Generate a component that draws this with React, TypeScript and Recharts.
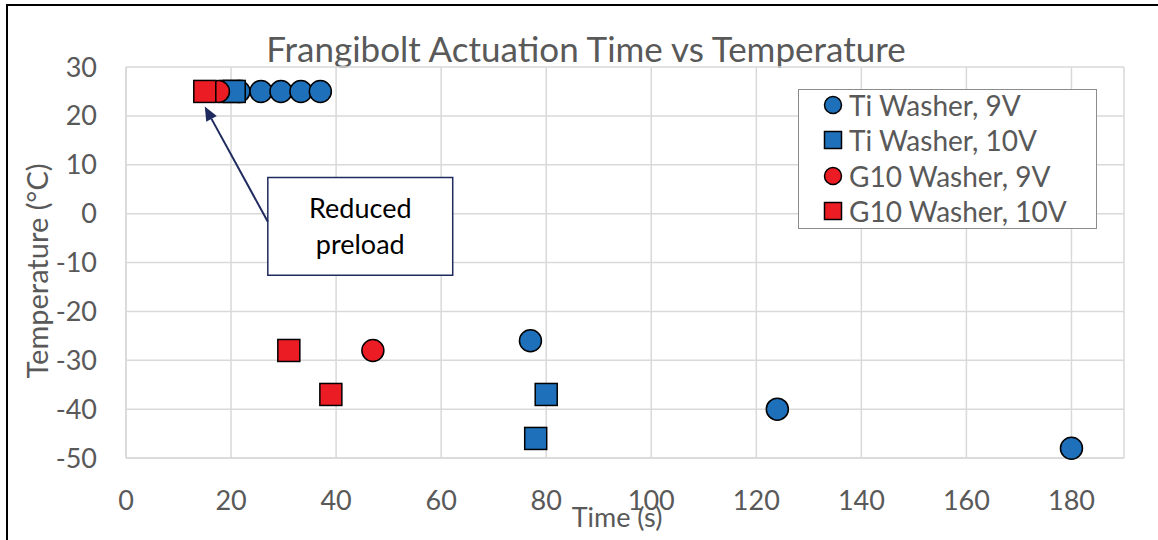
import React from "react";
import {
  ScatterChart,
  Scatter,
  XAxis,
  YAxis,
  CartesianGrid,
  ReferenceArea,
  ReferenceLine,
} from "recharts";

// readings: time (s) vs temperature (°C)
const tiWasher9V = [
  { time: 21.5, temp: 25 },
  { time: 25.7, temp: 25 },
  { time: 29.5, temp: 25 },
  { time: 33.3, temp: 25 },
  { time: 37, temp: 25 },
  { time: 77, temp: -26 },
  { time: 124, temp: -40 },
  { time: 180, temp: -48 },
];
const tiWasher10V = [
  { time: 20, temp: 25 },
  { time: 20.6, temp: 25 },
  { time: 80, temp: -37 },
  { time: 78, temp: -46 },
];
const g10Washer9V = [
  { time: 17.6, temp: 25 },
  { time: 47, temp: -28 },
];
const g10Washer10V = [
  { time: 15, temp: 25 },
  { time: 31, temp: -28 },
  { time: 39, temp: -37 },
];

const xTicks = [0, 20, 40, 60, 80, 100, 120, 140, 160, 180];
const yTicks = [-50, -40, -30, -20, -10, 0, 10, 20, 30];

// annotation, in data units
const noteBox = { x1: 27, x2: 62.2, y1: -12.6, y2: 7.4 };
const noteArrow = { fromX: 27, fromY: -1.66, toX: 15, toY: 21.9 };
const noteLines = ["Reduced", "preload"];

const BLUE = "#1F70BA";
const RED = "#EC1C24";
const NAVY = "#1F2A5E";
const TEXT = "#595959";
const GRID = "#D9D9D9";
const FONT = "Lato, 'Open Sans', sans-serif";

const series = [
  { name: "Ti Washer, 9V", data: tiWasher9V, color: BLUE, kind: "circle" },
  { name: "Ti Washer, 10V", data: tiWasher10V, color: BLUE, kind: "square" },
  { name: "G10 Washer, 9V", data: g10Washer9V, color: RED, kind: "circle" },
  { name: "G10 Washer, 10V", data: g10Washer10V, color: RED, kind: "square" },
];

const makeShape = (color: string, kind: string, size = 22) => (props: any) => {
  const { cx, cy } = props;
  if (kind === "circle") {
    return <circle cx={cx} cy={cy} r={size / 2} fill={color} stroke="#000" strokeWidth={1.5} />;
  }
  return (
    <rect x={cx - size / 2} y={cy - size / 2} width={size} height={size} fill={color} stroke="#000" strokeWidth={1.5} />
  );
};

const LegendBox = () => (
  <div
    style={{
      position: "absolute",
      left: 798,
      top: 89,
      width: 297,
      height: 138,
      border: "1.5px solid #8C8C8C",
      background: "#fff",
      fontFamily: FONT,
      fontSize: 28,
      color: TEXT,
    }}
  >
    <div style={{ marginTop: -3 }}>
      {series.map((s) => (
        <div key={s.name} style={{ display: "flex", alignItems: "center", height: 35.5 }}>
          <svg width={50} height={24}>
            {makeShape(s.color, s.kind, 17)({ cx: 34, cy: 12 })}
          </svg>
          <span>{s.name}</span>
        </div>
      ))}
    </div>
  </div>
);

const NoteLabel = (props: any) => {
  const { x, y, width, height } = props.viewBox;
  const cx = x + width / 2;
  const cy = y + height / 2;
  return (
    <text x={cx} textAnchor="middle" fontFamily={FONT} fontSize={27} fill="#000">
      <tspan x={cx} y={cy - 19} dominantBaseline="central">{noteLines[0]}</tspan>
      <tspan x={cx} y={cy + 17} dominantBaseline="central">{noteLines[1]}</tspan>
    </text>
  );
};

const ArrowShape = (props: any) => {
  const { x1, y1, x2, y2 } = props;
  const ang = Math.atan2(y2 - y1, x2 - x1);
  const len = 14;
  const half = 6;
  const bx = x2 - len * Math.cos(ang);
  const by = y2 - len * Math.sin(ang);
  const px = -Math.sin(ang) * half;
  const py = Math.cos(ang) * half;
  return (
    <g>
      <line x1={x1} y1={y1} x2={bx} y2={by} stroke={NAVY} strokeWidth={2} />
      <polygon points={`${x2},${y2} ${bx + px},${by + py} ${bx - px},${by - py}`} fill={NAVY} />
    </g>
  );
};

const YTitle = () => (
  <text
    x={36}
    y={271}
    transform="rotate(-90, 36, 271)"
    textAnchor="middle"
    dominantBaseline="central"
    fontFamily={FONT}
    fontSize={29}
    fill={TEXT}
  >
    Temperature (°C)
  </text>
);

const XTitle = () => (
  <text x={617} y={527} textAnchor="middle" fontFamily={FONT} fontSize={27} fill={TEXT}>
    Time (s)
  </text>
);

export default function App() {
  return (
    <div
      style={{
        position: "fixed",
        left: 0,
        top: 0,
        width: 1158,
        height: 540,
        overflow: "hidden",
        background: "#fff",
      }}
    >
      <div
        style={{
          position: "absolute",
          left: 86,
          width: 1000,
          top: 26,
          textAlign: "center",
          fontFamily: FONT,
          fontSize: 35,
          color: TEXT,
          lineHeight: "44px",
        }}
      >
        Frangibolt Actuation Time vs Temperature
      </div>
      <div style={{ position: "absolute", left: 0, top: 0 }}>
        <ScatterChart width={1158} height={540} margin={{ top: 67, right: 34, bottom: 32, left: 0 }}>
          <CartesianGrid stroke={GRID} strokeWidth={1.5} />
          <XAxis
            type="number"
            dataKey="time"
            domain={[0, 190]}
            ticks={xTicks}
            interval={0}
            height={50}
            tickSize={0}
            tickMargin={33}
            axisLine={{ stroke: GRID, strokeWidth: 1.5 }}
            tickLine={false}
            tick={{ fill: TEXT, fontSize: 27, fontFamily: FONT }}
            label={<XTitle />}
          />
          <YAxis
            type="number"
            dataKey="temp"
            domain={[-50, 30]}
            ticks={yTicks}
            interval={0}
            width={126}
            tickSize={0}
            tickMargin={29}
            axisLine={{ stroke: GRID, strokeWidth: 1.5 }}
            tickLine={false}
            tick={{ fill: TEXT, fontSize: 27, fontFamily: FONT }}
            label={<YTitle />}
          />
          <ReferenceArea
            x1={noteBox.x1}
            x2={noteBox.x2}
            y1={noteBox.y1}
            y2={noteBox.y2}
            fill="#fff"
            fillOpacity={1}
            stroke={NAVY}
            strokeWidth={1.5}
            label={<NoteLabel />}
          />
          <ReferenceLine
            segment={[
              { x: noteArrow.fromX, y: noteArrow.fromY },
              { x: noteArrow.toX, y: noteArrow.toY },
            ]}
            shape={<ArrowShape />}
          />
          {series.map((s) => (
            <Scatter
              key={s.name}
              name={s.name}
              data={s.data}
              fill={s.color}
              shape={makeShape(s.color, s.kind)}
              isAnimationActive={false}
            />
          ))}
        </ScatterChart>
      </div>
      <LegendBox />
      {/* outer chart frame: only left and top edges show in the reference */}
      <div style={{ position: "absolute", left: 6, top: 4, width: 2, height: 540, background: "#000" }} />
      <div style={{ position: "absolute", left: 6, top: 4, width: 1152, height: 2, background: "#000" }} />
    </div>
  );
}
